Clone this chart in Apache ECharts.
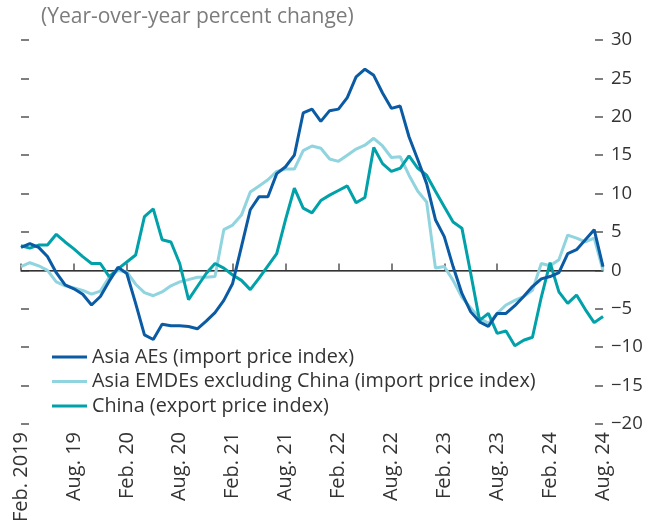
<!DOCTYPE html>
<html>
<head>
<meta charset="utf-8">
<script src="https://cdn.jsdelivr.net/npm/echarts@6/dist/echarts.min.js"></script>
<style>
html,body{margin:0;padding:0;background:#fff;}
#chart{width:657px;height:529px;}
</style>
</head>
<body>
<div id="chart"></div>
<script>
// Monthly categories Feb 2019 .. Aug 2024
const months = (function(){
  const out = [];
  let y = 2019, m = 2;
  while (y < 2024 || (y === 2024 && m <= 8)) {
    out.push(y + '-' + String(m).padStart(2,'0'));
    m++; if (m > 12) { m = 1; y++; }
  }
  return out;
})();

const tickLabels = ['Feb. 2019','Aug. 19','Feb. 20','Aug. 20','Feb. 21','Aug. 21','Feb. 22','Aug. 22','Feb. 23','Aug. 23','Feb. 24','Aug. 24'];
const yTicks = [30,25,20,15,10,5,0,-5,-10,-15,-20];

const asiaAEs = [3.0,3.5,3.0,1.8,-0.3,-1.9,-2.4,-3.1,-4.5,-3.4,-1.4,0.4,-0.4,-4.3,-8.4,-9.0,-7.0,-7.2,-7.2,-7.3,-7.6,-6.6,-5.5,-3.9,-1.7,3.1,7.9,9.6,9.6,12.6,13.5,15.0,20.5,21.0,19.4,20.8,21.0,22.5,25.2,26.2,25.4,23.1,21.1,21.4,17.4,14.4,11.3,6.6,4.4,0.5,-3.0,-5.4,-6.7,-7.3,-5.6,-5.6,-4.6,-3.4,-2.1,-1.1,-0.8,-0.3,2.2,2.7,4.0,5.3,0.5];

const asiaEMDEs = [0.5,1.0,0.6,0.0,-1.5,-2.0,-2.3,-2.6,-3.1,-2.7,-0.9,0.0,-0.2,-1.8,-2.9,-3.3,-2.8,-2.0,-1.5,-1.2,-0.9,-0.9,-0.8,5.3,5.9,7.2,10.2,11.0,11.8,12.9,13.2,13.2,15.6,16.2,15.9,14.5,14.2,15.0,15.8,16.3,17.2,16.2,14.7,14.8,12.4,10.3,8.9,0.3,0.5,-1.3,-3.5,-4.9,-6.2,-6.9,-5.6,-4.5,-3.9,-3.4,-2.6,0.9,0.6,1.4,4.6,4.2,3.7,4.2,0.0];

const chinaExport = [3.2,2.9,3.3,3.3,4.7,3.7,2.8,1.8,0.9,0.9,-0.8,0.2,1.1,2.0,7.0,8.0,4.0,3.7,0.9,-3.8,-2.1,-0.4,0.9,0.3,-0.6,-1.3,-2.5,-1.0,0.6,2.2,6.6,10.7,8.1,7.5,9.1,9.8,10.4,11.0,8.8,9.5,16.0,13.9,12.9,13.3,14.9,13.3,12.4,10.3,8.3,6.3,5.5,-0.4,-6.5,-5.6,-8.2,-7.9,-9.8,-9.1,-8.7,-3.5,1.0,-2.8,-4.3,-3.2,-5.1,-6.8,-6.0];

const seriesNames = ['Asia AEs (import price index)','Asia EMDEs excluding China (import price index)','China (export price index)'];
const colors = ['#0a5ba3','#8fd4de','#00a1a9'];

const FONT = 'Open Sans';
const chart = echarts.init(document.getElementById('chart'), null, {renderer:'canvas'});

const tickEvery6 = function(i){ return i % 6 === 0; };

function fmtNum(v){ return v < 0 ? '\u2212' + Math.abs(v) : String(v); }

const yCommon = {
  type:'value', min:-20, max:30, interval:5,
  splitLine:{show:false},
  axisLine:{show:false}
};

chart.setOption({
  animation:false,
  backgroundColor:'#ffffff',
  title:{
    text:'(Year-over-year percent change)',
    left:36, top:2,
    textStyle:{fontFamily:FONT, fontSize:21, fontWeight:'normal', color:'#7c7c7c'}
  },
  grid:{left:21, right:54, top:40, bottom:105, containLabel:false},
  legend:{
    orient:'vertical', left:47, top:340,
    icon:'rect', itemWidth:35, itemHeight:3,
    itemGap:0.5,
    textStyle:{fontFamily:FONT, fontSize:19.8, fontWeight:'normal', color:'#333333', lineHeight:24},
    data:seriesNames
  },
  xAxis:{
    type:'category', data:months, boundaryGap:false,
    axisLine:{show:true, lineStyle:{color:'#555555', width:1.5}},
    axisTick:{show:true, inside:true, length:7, interval:tickEvery6, lineStyle:{color:'#555555', width:1.5}},
    axisLabel:{
      interval:tickEvery6, rotate:90, margin:8,
      fontFamily:FONT, fontSize:20, fontWeight:'normal', color:'#333333',
      formatter:function(v, i){ return tickLabels[Math.round(i/6)] || ''; }
    }
  },
  yAxis:[
    Object.assign({}, yCommon, {
      position:'left',
      axisTick:{show:true, inside:true, length:8, lineStyle:{color:'#555555', width:1.5}},
      axisLabel:{show:false}
    }),
    Object.assign({}, yCommon, {
      position:'right',
      axisTick:{show:true, inside:true, length:8, lineStyle:{color:'#555555', width:1.5}},
      axisLabel:{show:true, margin:8, fontFamily:FONT, fontSize:18.5, fontWeight:'normal', color:'#333333', formatter:fmtNum}
    })
  ],
  series:[
    {
      name:seriesNames[0], type:'line', data:asiaAEs, yAxisIndex:0,
      symbol:'none', lineStyle:{width:3, color:colors[0]}, itemStyle:{color:colors[0]}, z:4,
      markLine:{
        silent:true, symbol:'none', label:{show:false},
        lineStyle:{color:'#333333', width:1, type:'solid'},
        data:[{yAxis:0}], z:1
      }
    },
    {
      name:seriesNames[1], type:'line', data:asiaEMDEs, yAxisIndex:0,
      symbol:'none', lineStyle:{width:3, color:colors[1]}, itemStyle:{color:colors[1]}, z:2
    },
    {
      name:seriesNames[2], type:'line', data:chinaExport, yAxisIndex:0,
      symbol:'none', lineStyle:{width:3, color:colors[2]}, itemStyle:{color:colors[2]}, z:3
    }
  ]
});
</script>
</body>
</html>
